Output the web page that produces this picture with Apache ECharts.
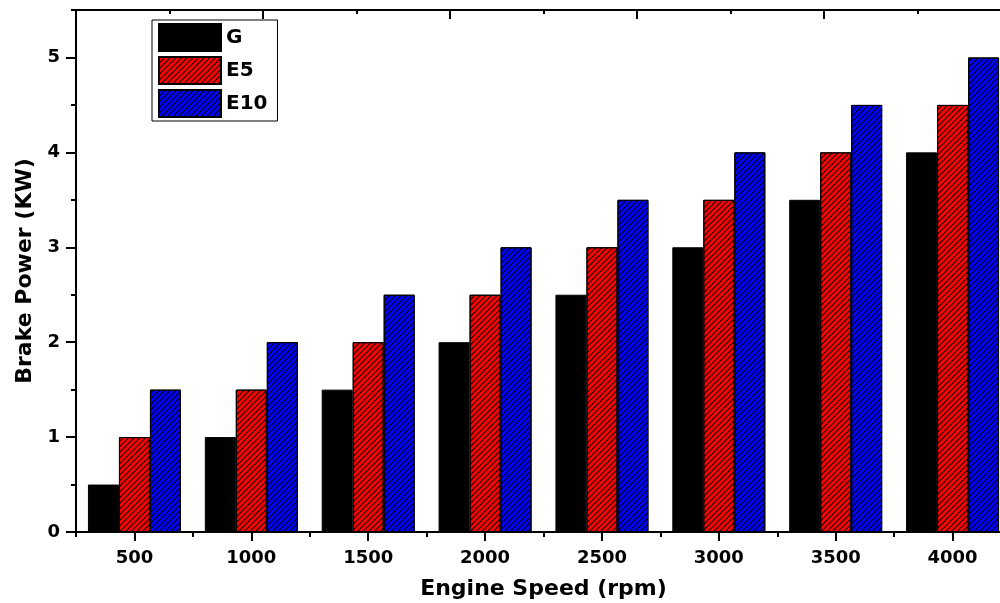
<!DOCTYPE html>
<html>
<head>
<meta charset="utf-8">
<script src="https://cdn.jsdelivr.net/npm/echarts@6/dist/echarts.min.js"></script>
<style>
html,body{margin:0;padding:0;background:#fff;overflow:hidden;}
#chart{width:1000px;height:603px;}
</style>
</head>
<body>
<div id="chart"></div>
<script>
const categories = ['500','1000','1500','2000','2500','3000','3500','4000'];
const seriesNames = ['G','E5','E10'];
const gValues   = [0.5, 1.0, 1.5, 2.0, 2.5, 3.0, 3.5, 4.0];
const e5Values  = [1.0, 1.5, 2.0, 2.5, 3.0, 3.5, 4.0, 4.5];
const e10Values = [1.5, 2.0, 2.5, 3.0, 3.5, 4.0, 4.5, 5.0];
const yLabelValues = [0, 1, 2, 3, 4, 5];

const FONT = 'DejaVu Sans';
const hatch = {
  symbol: 'rect',
  symbolSize: 1,
  dashArrayX: [1, 0],
  dashArrayY: [1, 3],
  rotation: -Math.PI / 4,
  color: '#000000'
};

const chart = echarts.init(document.getElementById('chart'), null, {renderer: 'canvas'});
const axisLineStyle = {color: '#000', width: 2};
const tickStyle = {color: '#000', width: 2};

chart.setOption({
  animation: false,
  backgroundColor: '#ffffff',
  grid: {left: 76, width: 935, top: 10, height: 522, containLabel: false, outerBoundsMode: 'none'},
  legend: {
    left: 152, top: 20, orient: 'vertical',
    itemWidth: 62, itemHeight: 27, itemGap: 4,
    padding: [3, 10, 3, 6],
    borderColor: '#000', borderWidth: 1,
    backgroundColor: '#fff',
    textStyle: {fontFamily: FONT, fontWeight: 'bold', fontSize: 20, color: '#000'},
    data: seriesNames.map(n => ({name: n, icon: 'rect'}))
  },
  xAxis: [
    {
      type: 'category', data: categories, position: 'bottom',
      boundaryGap: true,
      axisLine: {show: true, lineStyle: axisLineStyle},
      axisTick: {show: true, alignWithLabel: true, length: 9, lineStyle: tickStyle},
      axisLabel: {fontFamily: FONT, fontWeight: 'bold', fontSize: 18, color: '#000', margin: 17},
      splitLine: {show: false},
      name: 'Engine Speed (rpm)', nameLocation: 'middle', nameGap: 46,
      nameTextStyle: {fontFamily: FONT, fontWeight: 'bold', fontSize: 22, color: '#000'}
    },
    {
      type: 'category', data: categories, position: 'bottom',
      boundaryGap: true,
      axisLine: {show: false},
      axisTick: {show: true, alignWithLabel: false, length: 5, lineStyle: tickStyle},
      axisLabel: {show: false},
      splitLine: {show: false}
    },
    {
      type: 'value', position: 'top', min: 0, max: 10, interval: 1,
      axisLine: {show: true, lineStyle: axisLineStyle},
      axisTick: {show: true, inside: true, length: 4, lineStyle: tickStyle},
      axisLabel: {show: false},
      splitLine: {show: false}
    },
    {
      type: 'value', position: 'top', min: 0, max: 10, interval: 2,
      axisLine: {show: false},
      axisTick: {show: true, inside: true, length: 9, lineStyle: tickStyle},
      axisLabel: {show: false},
      splitLine: {show: false}
    }
  ],
  yAxis: [
    {
      type: 'value', min: 0, max: 5.5, interval: 0.5, position: 'left',
      axisLine: {show: true, lineStyle: axisLineStyle},
      axisTick: {show: true, length: 5, lineStyle: tickStyle},
      axisLabel: {
        fontFamily: FONT, fontWeight: 'bold', fontSize: 18, color: '#000', margin: 16,
        formatter: v => (yLabelValues.indexOf(v) >= 0 ? String(v) : '')
      },
      splitLine: {show: false},
      name: 'Brake Power (KW)', nameLocation: 'middle', nameGap: 40,
      nameTextStyle: {fontFamily: FONT, fontWeight: 'bold', fontSize: 22, color: '#000'}
    },
    {
      type: 'value', min: 0, max: 5.5, position: 'left',
      axisLine: {show: false},
      axisTick: {show: true, length: 10, customValues: yLabelValues, lineStyle: tickStyle},
      axisLabel: {show: false},
      splitLine: {show: false}
    }
  ],
  series: [
    {
      name: 'G', type: 'bar', data: gValues, xAxisIndex: 0, yAxisIndex: 0,
      barWidth: 31, barGap: '0%',
      itemStyle: {color: '#000000', borderColor: '#000', borderWidth: 1}
    },
    {
      name: 'E5', type: 'bar', data: e5Values, xAxisIndex: 0, yAxisIndex: 0,
      barWidth: 31, barGap: '0%',
      itemStyle: {color: '#ff0000', borderColor: '#000', borderWidth: 1, decal: hatch}
    },
    {
      name: 'E10', type: 'bar', data: e10Values, xAxisIndex: 0, yAxisIndex: 0,
      barWidth: 31, barGap: '0%',
      itemStyle: {color: '#0000ff', borderColor: '#000', borderWidth: 1, decal: hatch}
    }
  ]
});
</script>
</body>
</html>
